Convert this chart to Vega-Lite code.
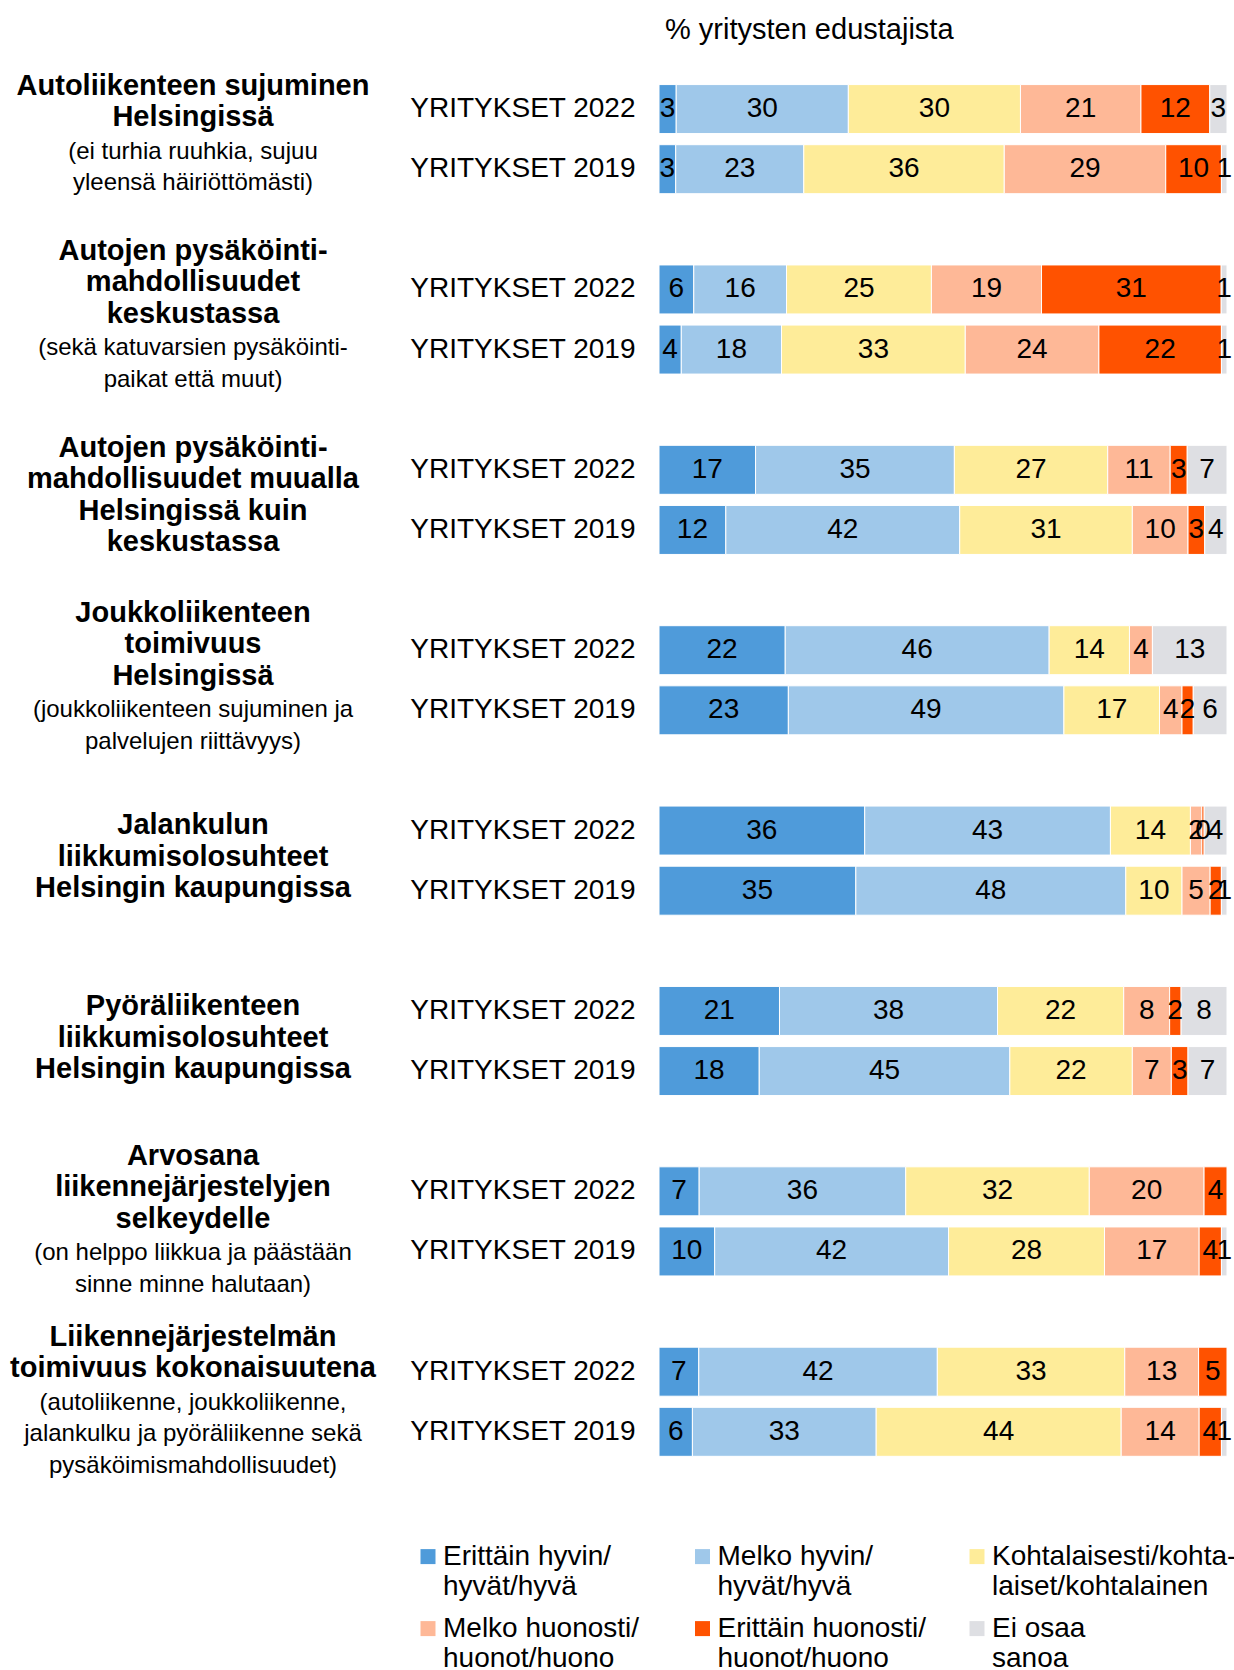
{
  "$schema": "https://vega.github.io/schema/vega-lite/v6.json",
  "padding": {"top": 15, "left": 0, "right": 0, "bottom": 0},
  "background": "white",
  "config": {
    "view": {"stroke": null},
    "font": "Liberation Sans",
    "text": {"font": "Liberation Sans", "color": "black"}
  },
  "datasets": {
    "vastaukset": [
      {"k": 1, "vastaus": "Erittäin hyvin/hyvät/hyvä"},
      {"k": 2, "vastaus": "Melko hyvin/hyvät/hyvä"},
      {"k": 3, "vastaus": "Kohtalaisesti/kohtalaiset/kohtalainen"},
      {"k": 4, "vastaus": "Melko huonosti/huonot/huono"},
      {"k": 5, "vastaus": "Erittäin huonosti/huonot/huono"},
      {"k": 6, "vastaus": "Ei osaa sanoa"}
    ],
    "otsikot": [
      {"ryhma": 1, "rivi": 1, "osa": "otsikko", "teksti": "Autoliikenteen sujuminen"},
      {"ryhma": 1, "rivi": 2, "osa": "otsikko", "teksti": "Helsingissä"},
      {"ryhma": 1, "rivi": 3, "osa": "tarkennus", "teksti": "(ei turhia ruuhkia, sujuu"},
      {"ryhma": 1, "rivi": 4, "osa": "tarkennus", "teksti": "yleensä häiriöttömästi)"},
      {"ryhma": 2, "rivi": 1, "osa": "otsikko", "teksti": "Autojen pysäköinti-"},
      {"ryhma": 2, "rivi": 2, "osa": "otsikko", "teksti": "mahdollisuudet"},
      {"ryhma": 2, "rivi": 3, "osa": "otsikko", "teksti": "keskustassa"},
      {"ryhma": 2, "rivi": 4, "osa": "tarkennus", "teksti": "(sekä katuvarsien pysäköinti-"},
      {"ryhma": 2, "rivi": 5, "osa": "tarkennus", "teksti": "paikat että muut)"},
      {"ryhma": 3, "rivi": 1, "osa": "otsikko", "teksti": "Autojen pysäköinti-"},
      {"ryhma": 3, "rivi": 2, "osa": "otsikko", "teksti": "mahdollisuudet muualla"},
      {"ryhma": 3, "rivi": 3, "osa": "otsikko", "teksti": "Helsingissä kuin"},
      {"ryhma": 3, "rivi": 4, "osa": "otsikko", "teksti": "keskustassa"},
      {"ryhma": 4, "rivi": 1, "osa": "otsikko", "teksti": "Joukkoliikenteen"},
      {"ryhma": 4, "rivi": 2, "osa": "otsikko", "teksti": "toimivuus"},
      {"ryhma": 4, "rivi": 3, "osa": "otsikko", "teksti": "Helsingissä"},
      {"ryhma": 4, "rivi": 4, "osa": "tarkennus", "teksti": "(joukkoliikenteen sujuminen ja"},
      {"ryhma": 4, "rivi": 5, "osa": "tarkennus", "teksti": "palvelujen riittävyys)"},
      {"ryhma": 5, "rivi": 1, "osa": "otsikko", "teksti": "Jalankulun"},
      {"ryhma": 5, "rivi": 2, "osa": "otsikko", "teksti": "liikkumisolosuhteet"},
      {"ryhma": 5, "rivi": 3, "osa": "otsikko", "teksti": "Helsingin kaupungissa"},
      {"ryhma": 6, "rivi": 1, "osa": "otsikko", "teksti": "Pyöräliikenteen"},
      {"ryhma": 6, "rivi": 2, "osa": "otsikko", "teksti": "liikkumisolosuhteet"},
      {"ryhma": 6, "rivi": 3, "osa": "otsikko", "teksti": "Helsingin kaupungissa"},
      {"ryhma": 7, "rivi": 1, "osa": "otsikko", "teksti": "Arvosana"},
      {"ryhma": 7, "rivi": 2, "osa": "otsikko", "teksti": "liikennejärjestelyjen"},
      {"ryhma": 7, "rivi": 3, "osa": "otsikko", "teksti": "selkeydelle"},
      {"ryhma": 7, "rivi": 4, "osa": "tarkennus", "teksti": "(on helppo liikkua ja päästään"},
      {"ryhma": 7, "rivi": 5, "osa": "tarkennus", "teksti": "sinne minne halutaan)"},
      {"ryhma": 8, "rivi": 1, "osa": "otsikko", "teksti": "Liikennejärjestelmän"},
      {"ryhma": 8, "rivi": 2, "osa": "otsikko", "teksti": "toimivuus kokonaisuutena"},
      {"ryhma": 8, "rivi": 3, "osa": "tarkennus", "teksti": "(autoliikenne, joukkoliikenne,"},
      {"ryhma": 8, "rivi": 4, "osa": "tarkennus", "teksti": "jalankulku ja pyöräliikenne sekä"},
      {"ryhma": 8, "rivi": 5, "osa": "tarkennus", "teksti": "pysäköimismahdollisuudet)"}
    ],
    "palkit": [
      {"rivi": "1/2022", "k": 1, "osuus": 3}, {"rivi": "1/2022", "k": 2, "osuus": 30}, {"rivi": "1/2022", "k": 3, "osuus": 30}, {"rivi": "1/2022", "k": 4, "osuus": 21}, {"rivi": "1/2022", "k": 5, "osuus": 12}, {"rivi": "1/2022", "k": 6, "osuus": 3},
      {"rivi": "1/2019", "k": 1, "osuus": 3}, {"rivi": "1/2019", "k": 2, "osuus": 23}, {"rivi": "1/2019", "k": 3, "osuus": 36}, {"rivi": "1/2019", "k": 4, "osuus": 29}, {"rivi": "1/2019", "k": 5, "osuus": 10}, {"rivi": "1/2019", "k": 6, "osuus": 1},
      {"rivi": "2/2022", "k": 1, "osuus": 6}, {"rivi": "2/2022", "k": 2, "osuus": 16}, {"rivi": "2/2022", "k": 3, "osuus": 25}, {"rivi": "2/2022", "k": 4, "osuus": 19}, {"rivi": "2/2022", "k": 5, "osuus": 31}, {"rivi": "2/2022", "k": 6, "osuus": 1},
      {"rivi": "2/2019", "k": 1, "osuus": 4}, {"rivi": "2/2019", "k": 2, "osuus": 18}, {"rivi": "2/2019", "k": 3, "osuus": 33}, {"rivi": "2/2019", "k": 4, "osuus": 24}, {"rivi": "2/2019", "k": 5, "osuus": 22}, {"rivi": "2/2019", "k": 6, "osuus": 1},
      {"rivi": "3/2022", "k": 1, "osuus": 17}, {"rivi": "3/2022", "k": 2, "osuus": 35}, {"rivi": "3/2022", "k": 3, "osuus": 27}, {"rivi": "3/2022", "k": 4, "osuus": 11}, {"rivi": "3/2022", "k": 5, "osuus": 3}, {"rivi": "3/2022", "k": 6, "osuus": 7},
      {"rivi": "3/2019", "k": 1, "osuus": 12}, {"rivi": "3/2019", "k": 2, "osuus": 42}, {"rivi": "3/2019", "k": 3, "osuus": 31}, {"rivi": "3/2019", "k": 4, "osuus": 10}, {"rivi": "3/2019", "k": 5, "osuus": 3}, {"rivi": "3/2019", "k": 6, "osuus": 4},
      {"rivi": "4/2022", "k": 1, "osuus": 22}, {"rivi": "4/2022", "k": 2, "osuus": 46}, {"rivi": "4/2022", "k": 3, "osuus": 14}, {"rivi": "4/2022", "k": 4, "osuus": 4}, {"rivi": "4/2022", "k": 6, "osuus": 13},
      {"rivi": "4/2019", "k": 1, "osuus": 23}, {"rivi": "4/2019", "k": 2, "osuus": 49}, {"rivi": "4/2019", "k": 3, "osuus": 17}, {"rivi": "4/2019", "k": 4, "osuus": 4}, {"rivi": "4/2019", "k": 5, "osuus": 2}, {"rivi": "4/2019", "k": 6, "osuus": 6},
      {"rivi": "5/2022", "k": 1, "osuus": 36}, {"rivi": "5/2022", "k": 2, "osuus": 43}, {"rivi": "5/2022", "k": 3, "osuus": 14}, {"rivi": "5/2022", "k": 4, "osuus": 2}, {"rivi": "5/2022", "k": 5, "osuus": 0.4}, {"rivi": "5/2022", "k": 6, "osuus": 4},
      {"rivi": "5/2019", "k": 1, "osuus": 35}, {"rivi": "5/2019", "k": 2, "osuus": 48}, {"rivi": "5/2019", "k": 3, "osuus": 10}, {"rivi": "5/2019", "k": 4, "osuus": 5}, {"rivi": "5/2019", "k": 5, "osuus": 2}, {"rivi": "5/2019", "k": 6, "osuus": 1},
      {"rivi": "6/2022", "k": 1, "osuus": 21}, {"rivi": "6/2022", "k": 2, "osuus": 38}, {"rivi": "6/2022", "k": 3, "osuus": 22}, {"rivi": "6/2022", "k": 4, "osuus": 8}, {"rivi": "6/2022", "k": 5, "osuus": 2}, {"rivi": "6/2022", "k": 6, "osuus": 8},
      {"rivi": "6/2019", "k": 1, "osuus": 18}, {"rivi": "6/2019", "k": 2, "osuus": 45}, {"rivi": "6/2019", "k": 3, "osuus": 22}, {"rivi": "6/2019", "k": 4, "osuus": 7}, {"rivi": "6/2019", "k": 5, "osuus": 3}, {"rivi": "6/2019", "k": 6, "osuus": 7},
      {"rivi": "7/2022", "k": 1, "osuus": 7}, {"rivi": "7/2022", "k": 2, "osuus": 36}, {"rivi": "7/2022", "k": 3, "osuus": 32}, {"rivi": "7/2022", "k": 4, "osuus": 20}, {"rivi": "7/2022", "k": 5, "osuus": 4},
      {"rivi": "7/2019", "k": 1, "osuus": 10}, {"rivi": "7/2019", "k": 2, "osuus": 42}, {"rivi": "7/2019", "k": 3, "osuus": 28}, {"rivi": "7/2019", "k": 4, "osuus": 17}, {"rivi": "7/2019", "k": 5, "osuus": 4}, {"rivi": "7/2019", "k": 6, "osuus": 1},
      {"rivi": "8/2022", "k": 1, "osuus": 7}, {"rivi": "8/2022", "k": 2, "osuus": 42}, {"rivi": "8/2022", "k": 3, "osuus": 33}, {"rivi": "8/2022", "k": 4, "osuus": 13}, {"rivi": "8/2022", "k": 5, "osuus": 5},
      {"rivi": "8/2019", "k": 1, "osuus": 6}, {"rivi": "8/2019", "k": 2, "osuus": 33}, {"rivi": "8/2019", "k": 3, "osuus": 44}, {"rivi": "8/2019", "k": 4, "osuus": 14}, {"rivi": "8/2019", "k": 5, "osuus": 4}, {"rivi": "8/2019", "k": 6, "osuus": 1}
    ]
  },
  "bounds": "flush",
  "spacing": 659,
  "hconcat": [
    {
      "data": {"name": "otsikot"},
      "transform": [
        {"aggregate": [{"op": "count", "as": "rivit"}], "groupby": ["ryhma", "rivi", "osa", "teksti"]},
        {"stack": "rivit", "groupby": ["ryhma"], "offset": "center", "sort": [{"field": "rivi", "order": "ascending"}], "as": ["y0", "y1"]}
      ],
      "facet": {"row": {"field": "ryhma", "type": "ordinal", "title": null, "header": {"labels": false, "title": null}}},
      "spacing": {"row": 0},
      "bounds": "flush",
      "spec": {
        "width": 386,
        "height": 180.96,
        "encoding": {
          "y": {"field": "y0", "type": "quantitative", "scale": {"domain": [0.7889, 6.5337], "reverse": true, "nice": false, "zero": false}, "axis": null},
          "text": {"field": "teksti", "type": "nominal"}
        },
        "layer": [
          {
            "transform": [{"filter": "datum.osa == 'otsikko'"}],
            "mark": {"type": "text", "fontSize": 29, "fontWeight": "bold", "baseline": "middle", "align": "center", "dy": 15.75, "color": "black"}
          },
          {
            "transform": [{"filter": "datum.osa == 'tarkennus'"}],
            "mark": {"type": "text", "fontSize": 24, "fontWeight": "normal", "baseline": "middle", "align": "center", "dy": 18.7, "color": "black"}
          }
        ]
      }
    },
    {
      "width": 568,
      "height": 1443,
      "data": {"name": "palkit"},
      "transform": [
        {"lookup": "k", "from": {"data": {"name": "vastaukset"}, "key": "k", "fields": ["vastaus"]}}
      ],
      "title": {
        "text": "% yritysten edustajista",
        "anchor": "start", "frame": "group", "fontSize": 29, "fontWeight": "normal",
        "font": "Liberation Sans", "color": "black", "baseline": "alphabetic", "offset": 11.3, "dx": 6
      },
      "encoding": {
        "y": {
          "field": "rivi", "type": "nominal",
          "scale": {"domain": ["1/2022","1/2019","1/","2/2022","2/2019","2/","3/2022","3/2019","3/","4/2022","4/2019","4/","5/2022","5/2019","5/","6/2022","6/2019","6/","7/2022","7/2019","7/","8/2022","8/2019","8/"], "paddingInner": 0, "paddingOuter": 0},
          "axis": {
            "title": null, "ticks": false, "domain": false, "grid": false,
            "labelFontSize": 28, "labelFont": "Liberation Sans", "labelColor": "black", "labelPadding": 24, "labelLimit": 320,
            "labelExpr": "split(datum.value, '/')[1] ? 'YRITYKSET ' + split(datum.value, '/')[1] : ''"
          }
        },
        "x": {"field": "osuus", "type": "quantitative", "stack": "normalize", "scale": {"domain": [0, 1]}, "axis": null},
        "order": {"field": "k", "type": "quantitative"}
      },
      "layer": [
        {
          "mark": {"type": "bar", "height": 49, "stroke": "white", "strokeWidth": 1},
          "encoding": {
            "color": {
              "field": "vastaus", "type": "nominal",
              "scale": {
                "domain": ["Erittäin hyvin/hyvät/hyvä", "Melko hyvin/hyvät/hyvä", "Kohtalaisesti/kohtalaiset/kohtalainen", "Melko huonosti/huonot/huono", "Erittäin huonosti/huonot/huono", "Ei osaa sanoa"],
                "range": ["#4F9BDA", "#9FC8EA", "#FEEC99", "#FEB897", "#FF5200", "#DEDFE3"]
              },
              "legend": {
                "orient": "none", "legendX": 414, "legendY": 1463.6, "direction": "horizontal", "columns": 3,
                "title": null, "padding": 0, "symbolType": "square", "symbolSize": 225, "symbolStrokeWidth": 0,
                "labelFontSize": 28, "labelFont": "Liberation Sans", "labelColor": "black", "labelLimit": 400,
                "labelOffset": 1, "labelBaseline": "middle", "columnPadding": 0.5, "rowPadding": 14, "gridAlign": "all",
                "labelExpr": "datum.value == 'Kohtalaisesti/kohtalaiset/kohtalainen' ? ['Kohtalaisesti/kohta-', 'laiset/kohtalainen'] : datum.value == 'Ei osaa sanoa' ? ['Ei osaa', 'sanoa'] : [substring(datum.value, 0, indexof(datum.value, '/') + 1), substring(datum.value, indexof(datum.value, '/') + 1)]",
                "encode": {"labels": {"update": {"dy": {"value": 16}, "lineHeight": {"value": 31.7}}}}
              }
            }
          }
        },
        {
          "mark": {"type": "text", "fontSize": 28, "baseline": "middle", "align": "center", "color": "black"},
          "encoding": {
            "x": {"field": "osuus", "type": "quantitative", "stack": "normalize", "bandPosition": 0.5},
            "detail": {"field": "k", "type": "nominal"},
            "text": {"field": "osuus", "type": "quantitative", "format": ".0f"}
          }
        }
      ]
    }
  ]
}
